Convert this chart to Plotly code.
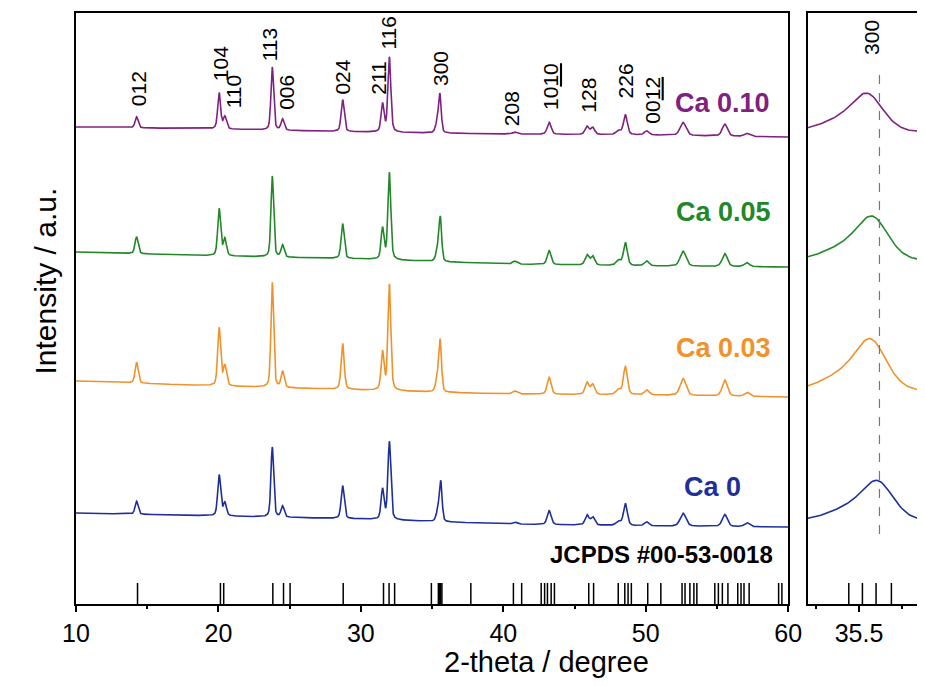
import numpy as np
import plotly.graph_objects as go

# ---------------- data ----------------
series_names = ["Ca 0", "Ca 0.03", "Ca 0.05", "Ca 0.10"]
series_colors = ["#1F2F9A", "#F0922B", "#23872A", "#80207F"]

# peak positions (2-theta, degree) common to all patterns (300 listed separately)
peak_pos = [14.25, 20.05, 20.45, 23.78, 24.50, 28.72, 31.52, 32.00,
            40.80, 43.22, 45.88, 46.28, 48.08, 48.57, 50.07, 52.62, 55.55, 57.10]
peak_fwhm = [0.25, 0.24, 0.26, 0.22, 0.25, 0.25, 0.24, 0.24,
             0.38, 0.32, 0.32, 0.32, 0.38, 0.32, 0.38, 0.48, 0.42, 0.42]

# peak heights above background (a.u.)
h_ca0 = [13, 41, 13, 70, 11, 33, 30, 78, 2, 14, 10, 8, 4, 22, 4, 13, 12, 4]
h_ca003 = [21, 58, 20, 105, 16, 46, 38, 106, 3, 17, 12, 10, 5, 28, 5, 17, 16, 4]
h_ca005 = [17, 47, 17, 81, 12, 35, 31, 87, 3, 14, 10, 9, 5, 23, 5, 15, 13, 4]
h_ca010 = [11, 36, 12, 63, 11, 32, 28, 75, 2, 12, 8, 7, 4, 20, 4, 13, 12, 3]

# (300) reflection: centre, height and low-angle shoulder height per pattern
c300 = [35.61, 35.57, 35.58, 35.55]
h300 = [37, 48, 41, 36]
h300_sh = [11, 14, 12, 10]

# background level at 2-theta = 10, 20, 30, 40, 50, 60 (offset stacked)
bg_theta = [10, 20, 30, 40, 50, 60]
bg_ca0 = [91, 88, 85, 80, 78, 77]
bg_ca003 = [223, 218, 214, 210, 209, 207]
bg_ca005 = [352, 348, 345, 340, 338, 337]
bg_ca010 = [477, 475, 472, 470, 469, 467]

# JCPDS #00-53-0018 reference line positions
jcpds_pos = [14.32, 20.14, 20.37, 23.82, 24.57, 25.03, 28.76, 31.59, 31.98, 32.37,
             34.95, 35.44, 35.52, 35.60, 35.69, 37.72, 40.71, 41.29, 42.66, 42.90,
             43.10, 43.36, 43.59, 46.00, 46.34, 48.07, 48.53, 48.76, 48.99, 50.14,
             51.06, 52.55, 52.76, 53.10, 53.38, 53.59, 54.85, 55.10, 55.38, 55.77,
             56.46, 56.69, 56.90, 57.26, 59.33, 59.56]
jcpds_height = 21

# hkl labels
hkl_text = ["012", "104", "110", "113", "006", "024", "211", "116", "300",
            "208", "10<u>10</u>", "128", "226", "00<u>12</u>"]
hkl_theta = [14.40, 20.16, 21.08, 23.61, 24.77, 28.68, 31.22, 31.91, 35.59,
             40.59, 43.31, 45.96, 48.61, 50.45]
hkl_level = [496, 521, 494, 541, 492, 507, 507, 552, 516, 476, 492, 489, 504, 478]

heights = [h_ca0, h_ca003, h_ca005, h_ca010]
bgs = [bg_ca0, bg_ca003, bg_ca005, bg_ca010]
label_pos = [(54.69, 117), (55.45, 256), (55.45, 392), (55.38, 501)]
# ------------------------------------------------------------

FONT = "Arial, Liberation Sans, sans-serif"


def pv(x, c, h, w, eta=0.4):
    d = (x - c) / (w / 2.0)
    return h * (eta / (1 + d * d) + (1 - eta) * np.exp(-np.log(2) * d * d))


x = np.linspace(10, 60, 5001)


def pattern(i):
    y = np.interp(x, bg_theta, bgs[i])
    for c, w, h in zip(peak_pos, peak_fwhm, heights[i]):
        y = y + pv(x, c, h, w)
    y = y + pv(x, c300[i], h300[i], 0.22, 0.3)
    y = y + pv(x, c300[i] - 0.18, h300_sh[i], 0.30, 0.3)
    return y


fig = go.Figure()
zoom_mask = (x >= 35.1) & (x <= 36.0)
for i in range(4):
    y = pattern(i)
    fig.add_trace(go.Scatter(x=x, y=y, mode="lines",
                             line=dict(color=series_colors[i], width=1.6),
                             xaxis="x", yaxis="y", showlegend=False, hoverinfo="skip"))
    fig.add_trace(go.Scatter(x=x[zoom_mask], y=y[zoom_mask], mode="lines",
                             line=dict(color=series_colors[i], width=1.6),
                             xaxis="x2", yaxis="y2", showlegend=False, hoverinfo="skip"))

sx, sy = [], []
for p in jcpds_pos:
    sx += [p, p, None]
    sy += [0, jcpds_height, None]
for ax in [("x", "y"), ("x2", "y2")]:
    fig.add_trace(go.Scatter(x=sx, y=sy, mode="lines", line=dict(color="black", width=1.5),
                             xaxis=ax[0], yaxis=ax[1], showlegend=False, hoverinfo="skip"))

annotations = []
for t, xt, yl in zip(hkl_text, hkl_theta, hkl_level):
    annotations.append(dict(x=xt, y=yl, xref="x", yref="y", text=t, textangle=-90,
                            showarrow=False, xanchor="center", yanchor="bottom",
                            font=dict(family=FONT, size=21, color="black")))
annotations.append(dict(x=35.573, y=547, xref="x2", yref="y2", text="300", textangle=-90,
                        showarrow=False, xanchor="center", yanchor="bottom",
                        font=dict(family=FONT, size=21, color="black")))
for i in range(4):
    annotations.append(dict(x=label_pos[i][0], y=label_pos[i][1], xref="x", yref="y",
                            text="<b>%s</b>" % series_names[i], showarrow=False,
                            xanchor="center", yanchor="middle",
                            font=dict(family=FONT, size=27, color=series_colors[i])))
annotations.append(dict(x=51.1, y=50, xref="x", yref="y", text="<b>JCPDS #00-53-0018</b>",
                        showarrow=False, xanchor="center", yanchor="middle",
                        font=dict(family=FONT, size=24, color="black")))
annotations.append(dict(x=0.5578, y=-0.0981, xref="paper", yref="paper", text="2-theta / degree",
                        showarrow=False, xanchor="center", yanchor="middle",
                        font=dict(family=FONT, size=29, color="black")))
annotations.append(dict(x=-0.0362, y=0.5465, xref="paper", yref="paper", text="Intensity / a.u.",
                        textangle=-90, showarrow=False, xanchor="center", yanchor="middle",
                        font=dict(family=FONT, size=30, color="black")))

axis_common = dict(showline=True, linecolor="black", linewidth=2, showgrid=False,
                   zeroline=False)

fig.update_layout(
    width=925, height=670,
    margin=dict(l=68, r=0, t=5, b=74),
    paper_bgcolor="white", plot_bgcolor="white",
    xaxis=dict(domain=[0, 0.8448], range=[10, 60], mirror=True, ticks="outside",
               ticklen=6, tickwidth=2, tickcolor="black", tick0=10, dtick=10,
               minor=dict(ticks="outside", ticklen=3, tickwidth=1.5, tickcolor="black", dtick=5),
               tickfont=dict(family=FONT, size=25, color="black"), anchor="y",
               **axis_common),
    yaxis=dict(domain=[0, 1], range=[0, 591], mirror=True, ticks="", showticklabels=False,
               anchor="x", **axis_common),
    xaxis2=dict(domain=[0.8678, 1], range=[35.198, 35.852], mirror=True, ticks="outside",
                ticklen=6, tickwidth=2, tickcolor="black", tick0=35.5, dtick=0.5,
                minor=dict(ticks="outside", ticklen=3, tickwidth=1.5, tickcolor="black", dtick=0.25),
                tickfont=dict(family=FONT, size=25, color="black"), anchor="y2",
                **axis_common),
    yaxis2=dict(domain=[0, 1], range=[0, 591], mirror=False, ticks="", showticklabels=False,
                anchor="x2", **axis_common),
    annotations=annotations,
    shapes=[dict(type="line", xref="x2", yref="y2", x0=35.62, x1=35.62, y0=70, y1=536,
                 line=dict(color="#777777", width=1.2, dash="dash"))],
)

fig.write_html("out.html")
